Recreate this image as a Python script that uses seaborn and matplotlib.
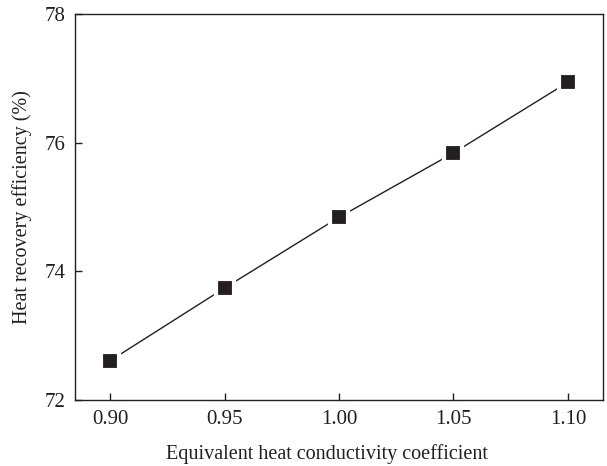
import matplotlib
matplotlib.use("Agg")
import matplotlib.pyplot as plt
import seaborn as sns
import pandas as pd
from matplotlib.ticker import FormatStrFormatter

# Heat recovery efficiency vs equivalent heat conductivity coefficient
conductivity = [0.90, 0.95, 1.00, 1.05, 1.10]
efficiency = [72.61, 73.74, 74.84, 75.84, 76.94]
x_ticks = [0.90, 0.95, 1.00, 1.05, 1.10]
y_ticks = [72, 74, 76, 78]

df = pd.DataFrame({"k": conductivity, "eff": efficiency})

sns.set_theme(style="ticks")
plt.rcParams["font.family"] = ["Liberation Serif", "DejaVu Serif"]
ink = "#231f20"

fig = plt.figure(figsize=(6.07, 4.66), dpi=100)
ax = fig.add_axes([0.1236, 0.1416, 0.8698, 0.8284])

sns.lineplot(data=df, x="k", y="eff", ax=ax, color=ink, linewidth=1.0,
             marker="s", markersize=13.5, markerfacecolor=ink,
             markeredgecolor="white", markeredgewidth=3)

ax.set_xlim(0.8847, 1.1153)
ax.set_ylim(72, 78)
ax.set_xticks(x_ticks)
ax.set_yticks(y_ticks)
ax.xaxis.set_major_formatter(FormatStrFormatter("%.2f"))
ax.tick_params(direction="in", length=5, width=1, colors=ink,
               labelsize=15, pad=7)
ax.tick_params(axis="y", pad=7)
for s in ax.spines.values():
    s.set_color(ink)
    s.set_linewidth(1.0)

ax.set_xlabel("Equivalent heat conductivity coefficient", fontsize=14.5,
              color=ink)
ax.set_ylabel("Heat recovery efficiency (%)", fontsize=14.5, color=ink)
ax.xaxis.set_label_coords(0.477, -0.115)
ax.yaxis.set_label_coords(-0.082, 0.5)

fig.savefig("out.png", dpi=100)
